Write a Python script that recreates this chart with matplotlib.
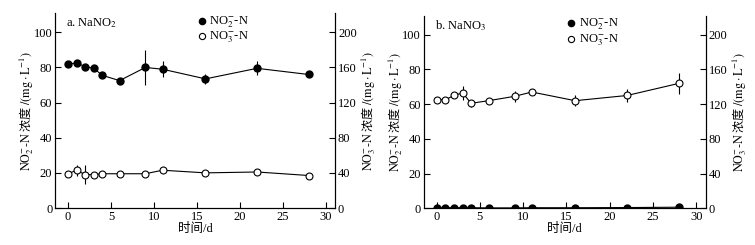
import numpy as np
import matplotlib
matplotlib.use("Agg")
import matplotlib.pyplot as plt

plt.rcParams['font.family'] = ['Liberation Serif', 'Noto Sans CJK SC']
plt.rcParams['mathtext.fontset'] = 'stix'
plt.rcParams['font.size'] = 9

# sampling days
days = [0, 1, 2, 3, 4, 6, 9, 11, 16, 22, 28]

# panel a: NaNO2
a_no2 = [82, 82.5, 80.5, 79.5, 75.5, 72.5, 80, 79, 73.5, 79.5, 76]
a_no2_err = [0.8, 0.8, 1, 1, 1, 1, 10, 4.5, 3, 4, 1]
a_no3 = [39, 43, 38, 38, 39, 39, 39, 43, 40, 41, 37]          # right axis
a_no3_err = [1, 6, 11, 2, 2, 1.5, 1.5, 3, 2, 2, 1.5]

# panel b: NaNO3
b_no2 = [0.3, 0.3, 0.3, 0.3, 0.3, 0.2, 0.2, 0.3, 0.3, 0.4, 0.6]
b_no2_err = [0.5, 0.3, 0.3, 0.3, 0.3, 0.3, 0.3, 0.3, 0.3, 0.3, 0.5]
b_no3 = [125, 125, 130, 133, 121, 124, 129, 134, 124, 130, 144]  # right axis
b_no3_err = [2, 2, 3, 8, 4, 2, 6, 3, 6, 7, 12]

panels = [
    ("a. NaNO$_2$", a_no2, a_no2_err, a_no3, a_no3_err, [0.073, 0.151, 0.371, 0.796]),
    ("b. NaNO$_3$", b_no2, b_no2_err, b_no3, b_no3_err, [0.561, 0.150, 0.374, 0.786]),
]

# non-math text takes the first family, so CJK goes there and Latin goes into math
cjk = 'Noto Sans CJK SC'
lab_left = r"$\mathrm{NO_2^{-}\text{-}N}$ 浓度 $/(\mathrm{mg\cdot L^{-1}})$"
lab_right = r"$\mathrm{NO_3^{-}\text{-}N}$ 浓度 $/(\mathrm{mg\cdot L^{-1}})$"

fig = plt.figure(figsize=(7.55, 2.45), dpi=100)

for title, no2, no2_err, no3, no3_err, pos in panels:
    ax = fig.add_axes(pos)
    ax2 = ax.twinx()

    ax.errorbar(days, no2, yerr=no2_err, color='black', lw=0.8, elinewidth=0.8,
                marker='o', ms=5, mfc='black', mec='black', capsize=0, zorder=3)
    ax2.errorbar(days, no3, yerr=no3_err, color='black', lw=0.8, elinewidth=0.8,
                 marker='o', ms=5, mfc='white', mec='black', mew=0.8, capsize=0)

    ax.set_xlim(-1.5, 31.1)
    ax.set_ylim(0, 111)
    ax2.set_ylim(0, 222)
    ax.set_xticks([0, 5, 10, 15, 20, 25, 30])
    ax.set_yticks([0, 20, 40, 60, 80, 100])
    ax2.set_yticks([0, 40, 80, 120, 160, 200])
    for a in (ax, ax2):
        a.spines['top'].set_visible(False)
        a.tick_params(direction='in', length=4, width=0.8, labelsize=9, pad=2)
        for s in a.spines.values():
            s.set_linewidth(0.8)

    ax.set_xlabel("时间/d", fontsize=9, labelpad=0)
    ax.set_ylabel(lab_left, family=cjk, fontsize=8.7, labelpad=-2)
    ax2.set_ylabel(lab_right, family=cjk, fontsize=8.7, rotation=90, labelpad=2)

    ax.text(0.04, 0.985, title, transform=ax.transAxes, fontsize=9, va='top', ha='left')

    h1 = ax.scatter([], [], s=20, c='black', marker='o')
    h2 = ax.scatter([], [], s=20, facecolors='white', edgecolors='black', linewidths=0.8, marker='o')
    ax.legend([h1, h2], ["NO$_2^{-}$-N", "NO$_3^{-}$-N"], loc='upper left',
              bbox_to_anchor=(0.47, 1.04), frameon=False, fontsize=9,
              handletextpad=0.1, labelspacing=0.0, borderpad=0.2, handlelength=1.0)

fig.savefig("out.png", dpi=100)
